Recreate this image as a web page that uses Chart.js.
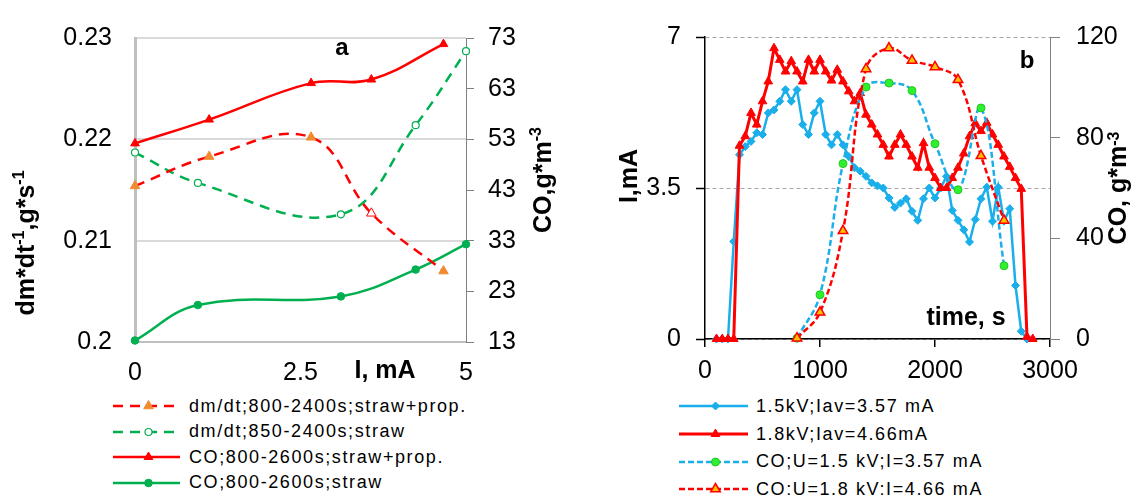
<!DOCTYPE html>
<html>
<head>
<meta charset="utf-8">
<script src="https://cdn.jsdelivr.net/npm/chart.js@4.4.1/dist/chart.umd.min.js"></script>
<style>
  html, body { margin: 0; padding: 0; background: #fff; }
  body { width: 1138px; height: 495px; position: relative; overflow: hidden;
         font-family: "Liberation Sans", Arial, sans-serif; }
  canvas { position: absolute; top: 0; }
  #cA { left: 0; }
  #cB { left: 580px; }
  .row { position: absolute; height: 20px; display: flex; align-items: center; white-space: nowrap;
         font-size: 18px; letter-spacing: 1.6px; color: #000; }
  .row svg { flex: none; }
</style>
</head>
<body>
<canvas id="cA" width="580" height="390"></canvas>
<canvas id="cB" width="558" height="390"></canvas>
<div id="legA"></div>
<div id="legB"></div>
<script>
'use strict';

// ---- panel a: mass loss rate and CO vs current ----
const iStraw    = [0, 0.95, 3.11, 4.24, 5.0];
const iProp     = [0, 1.12, 2.66, 3.57, 4.66];
const dmdtProp  = [0.2154, 0.2183, 0.2202, 0.2127, 0.2070];
const dmdtStraw = [0.2187, 0.2157, 0.2126, 0.2214, 0.2287];
const coProp    = [52.2, 56.9, 64.1, 64.8, 71.8];
const coStraw   = [13.3, 20.3, 22.0, 27.3, 32.3];
const ticksIA   = [0, 2.5, 5];
const ticksDmA  = [0.2, 0.21, 0.22, 0.23];
const ticksCoA  = [13, 23, 33, 43, 53, 63, 73];
const legendA   = ['dm/dt;800-2400s;straw+prop.', 'dm/dt;850-2400s;straw',
                   'CO;800-2600s;straw+prop.', 'CO;800-2600s;straw'];

// ---- panel b: current and CO vs time ----
const tBlue = [100, 150, 200, 250, 300, 350, 400, 450, 500, 550, 600, 650, 700, 750, 800, 850, 900, 950,
               1000, 1050, 1100, 1150, 1200, 1250, 1300, 1350, 1400, 1450, 1500, 1550, 1600, 1650, 1700,
               1750, 1800, 1850, 1900, 1950, 2000, 2050, 2100, 2150, 2200, 2250, 2300, 2350, 2400, 2450,
               2500, 2550, 2600, 2650, 2700, 2750, 2800];
const iBlue = [0, 0, 0, 2.26, 4.27, 4.46, 4.58, 4.78, 4.74, 5.24, 5.31, 5.51, 5.78, 5.51, 5.78, 4.97, 4.74,
               5.24, 5.51, 4.74, 4.50, 4.74, 4.50, 4.23, 3.97, 3.89, 3.77, 3.62, 3.55, 3.50, 3.27, 3.05,
               3.15, 3.25, 2.96, 2.75, 3.25, 3.50, 3.27, 3.50, 3.77, 2.98, 2.75, 2.53, 2.25, 2.77, 3.25,
               3.52, 2.73, 3.52, 2.73, 3.02, 1.24, 0.18, 0];
const tRed  = [100, 150, 200, 250, 300, 350, 400, 450, 500, 550, 600, 650, 700, 750, 800, 850, 900, 950,
               1000, 1050, 1100, 1150, 1200, 1250, 1300, 1350, 1400, 1450, 1500, 1550, 1600, 1650, 1700,
               1750, 1800, 1850, 1900, 1950, 2000, 2050, 2100, 2150, 2200, 2250, 2300, 2350, 2400, 2450,
               2500, 2550, 2600, 2650, 2700, 2750, 2800, 2850];
const iRed  = [0, 0, 0, 0, 4.48, 4.70, 5.24, 4.97, 5.51, 5.97, 6.74, 6.47, 6.20, 6.44, 6.20, 5.97, 6.47,
               6.20, 6.47, 6.20, 5.99, 6.24, 5.97, 5.74, 5.51, 5.70, 5.20, 4.97, 4.74, 4.50, 4.23, 4.50,
               4.74, 4.50, 4.23, 3.97, 4.54, 3.97, 3.73, 3.50, 3.50, 3.73, 3.97, 4.30, 4.70, 5.00, 4.82,
               5.01, 4.74, 4.50, 4.23, 3.99, 3.73, 3.48, 0.05, 0];
const tCO   = [800, 1000, 1200, 1400, 1600, 1800, 2000, 2200, 2400, 2600];
const co15  = [0.3, 17.6, 69.7, 100.1, 101.7, 98.7, 77.6, 59.3, 91.8, 29.1];
const co18  = [0.3, 10.6, 43.0, 107.3, 115.6, 110.7, 108.1, 103.0, 72.8, 47.1];
const ticksTimeB = [0, 1000, 2000, 3000];
const ticksIB    = [0, 3.5, 7];
const ticksCoB   = [0, 40, 80, 120];
const legendB = ['1.5kV;Iav=3.57 mA', '1.8kV;Iav=4.66mA', 'CO;U=1.5 kV;I=3.57 mA', 'CO;U=1.8 kV;I=4.66 mA'];

const FONT = '"Liberation Sans", Arial, sans-serif';
Chart.defaults.font.family = FONT;
Chart.defaults.color = '#000';

const pts = (xs, ys) => xs.map((x, i) => ({ x, y: ys[i] }));
const fixedTicks = vals => s => { s.ticks = vals.map(v => ({ value: v })); };
const plain = v => String(+Number(v).toFixed(2));

// bold text, optionally with superscript parts, optionally rotated (reads bottom-to-top)
function drawRich(ctx, n) {
  const size = n.size || 25;
  const base = `bold ${size}px ${FONT}`;
  const small = `bold ${Math.round(size * 0.62)}px ${FONT}`;
  const raise = n.raise != null ? n.raise : 0.4;
  ctx.save();
  ctx.translate(n.x, n.y);
  if (n.rot) ctx.rotate(-Math.PI / 2);
  ctx.fillStyle = '#000';
  ctx.textBaseline = 'alphabetic';
  ctx.textAlign = 'left';
  let w = 0;
  n.parts.forEach(p => { ctx.font = p[1] ? small : base; w += ctx.measureText(p[0]).width; });
  let cx = -w / 2;
  n.parts.forEach(p => {
    ctx.font = p[1] ? small : base;
    ctx.fillText(p[0], cx, p[1] ? -size * raise : 0);
    cx += ctx.measureText(p[0]).width;
  });
  ctx.restore();
}
const notes = list => ({
  id: 'notes',
  afterDraw(chart) { list.forEach(n => drawRich(chart.ctx, n)); }
});

const tickFont = { size: 25 };

// ---------------- chart a ----------------
const orange = '#F28A30';
const green = '#00B050';
const dsA = [
  { label: legendA[0], data: pts(iProp, dmdtProp), yAxisID: 'y', borderColor: '#FF0000', borderWidth: 2.5,
    borderDash: [10, 7], tension: 0.4, pointStyle: 'triangle', pointRadius: 5.5, pointBorderWidth: 1,
    pointBackgroundColor: [orange, orange, orange, '#FFFFFF', orange],
    pointBorderColor: [orange, orange, orange, '#FF0000', orange] },
  { label: legendA[1], data: pts(iStraw, dmdtStraw), yAxisID: 'y', borderColor: green, borderWidth: 2.5,
    borderDash: [10, 7], tension: 0.4, pointStyle: 'circle', pointRadius: 3.5, pointBorderWidth: 1.2,
    pointBackgroundColor: '#FFFFFF', pointBorderColor: green },
  { label: legendA[2], data: pts(iProp, coProp), yAxisID: 'y2', borderColor: '#FF0000', borderWidth: 2.5,
    tension: 0.4, pointStyle: 'triangle', pointRadius: 5, pointBorderWidth: 1,
    pointBackgroundColor: '#FF0000', pointBorderColor: '#FF0000' },
  { label: legendA[3], data: pts(iStraw, coStraw), yAxisID: 'y2', borderColor: green, borderWidth: 2.5,
    tension: 0.4, pointStyle: 'circle', pointRadius: 3.8, pointBorderWidth: 1,
    pointBackgroundColor: green, pointBorderColor: green }
];

new Chart(document.getElementById('cA'), {
  type: 'line',
  data: { datasets: dsA.map(d => Object.assign({ clip: false }, d)) },
  options: {
    responsive: false, animation: false, events: [],
    layout: { padding: { top: 30, left: 0, right: 0, bottom: 0 } },
    plugins: { legend: { display: false }, tooltip: { enabled: false } },
    scales: {
      x: { type: 'linear', min: 0, max: 5, afterBuildTicks: fixedTicks(ticksIA),
           ticks: { font: tickFont, padding: 16, callback: plain },
           grid: { display: false, drawTicks: false },
           border: { color: '#BFBFBF', width: 2 },
           afterFit: s => { s.height = 48; } },
      y: { min: 0.2, max: 0.23, afterBuildTicks: fixedTicks(ticksDmA),
           ticks: { font: tickFont, padding: 23, callback: plain },
           grid: { color: '#D9D9D9', lineWidth: 2, drawTicks: false },
           border: { color: '#BFBFBF', width: 3 },
           afterFit: s => { s.width = 135; } },
      y2: { position: 'right', min: 13, max: 73, afterBuildTicks: fixedTicks(ticksCoA),
            ticks: { font: tickFont, padding: 14, callback: plain },
            grid: { drawOnChartArea: false, tickLength: 8, color: '#808080', lineWidth: 1 },
            border: { color: '#808080', width: 1 },
            afterFit: s => { s.width = 114; } }
    }
  },
  plugins: [notes([
    { parts: [['dm*dt'], ['-1', 1], [',g*s'], ['-1', 1]], x: 34, y: 243, rot: true },
    { parts: [['CO,g*m'], ['-3', 1]], x: 551, y: 180, rot: true },
    { parts: [['I, mA']], x: 385, y: 378 },
    { parts: [['a']], x: 342, y: 55, size: 24 }
  ])]
});

// ---------------- chart b ----------------
const sky = '#1AAFEA';
const dsB = [
  { label: legendB[0], data: pts(tBlue, iBlue), yAxisID: 'y', borderColor: sky, borderWidth: 2.5, tension: 0,
    pointStyle: 'rectRot', pointRadius: 4, pointBorderWidth: 1,
    pointBackgroundColor: sky, pointBorderColor: sky, order: 4 },
  { label: legendB[1], data: pts(tRed, iRed), yAxisID: 'y', borderColor: '#FF0000', borderWidth: 3, tension: 0,
    pointStyle: 'triangle', pointRadius: 5, pointBorderWidth: 1,
    pointBackgroundColor: '#FF0000', pointBorderColor: '#FF0000', order: 3 },
  { label: legendB[2], data: pts(tCO, co15), yAxisID: 'y2', borderColor: sky, borderWidth: 2.5,
    borderDash: [6, 3], tension: 0.4, pointStyle: 'circle', pointRadius: 4, pointBorderWidth: 1,
    pointBackgroundColor: '#2EF02E', pointBorderColor: '#22C822', order: 2 },
  { label: legendB[3], data: pts(tCO, co18), yAxisID: 'y2', borderColor: '#FF0000', borderWidth: 2.5,
    borderDash: [6, 3], tension: 0.4, pointStyle: 'triangle', pointRadius: 5.5, pointBorderWidth: 1.5,
    pointBackgroundColor: '#FFC000', pointBorderColor: '#FF0000', order: 1 }
];

new Chart(document.getElementById('cB'), {
  type: 'line',
  data: { datasets: dsB.map(d => Object.assign({ clip: false }, d)) },
  options: {
    responsive: false, animation: false, events: [],
    layout: { padding: { top: 37, left: 0, right: 0, bottom: 0 } },
    plugins: { legend: { display: false }, tooltip: { enabled: false } },
    scales: {
      x: { type: 'linear', min: 0, max: 3000, afterBuildTicks: fixedTicks(ticksTimeB),
           ticks: { font: tickFont, padding: 9, callback: plain },
           grid: { drawOnChartArea: false, tickLength: 8, color: '#000', lineWidth: 1.5 },
           border: { color: '#000', width: 1.5 },
           afterFit: s => { s.height = 51; } },
      y: { min: 0, max: 7, afterBuildTicks: fixedTicks(ticksIB),
           ticks: { font: tickFont, padding: 15, callback: plain },
           grid: { color: '#A6A6A6', lineWidth: 1, tickLength: 9, tickColor: '#000', tickWidth: 1.5,
                   tickBorderDash: [] },
           border: { color: '#000', width: 1.5, dash: [4, 3] },
           afterFit: s => { s.width = 125; } },
      y2: { position: 'right', min: 0, max: 120, afterBuildTicks: fixedTicks(ticksCoB),
            ticks: { font: tickFont, padding: 16, callback: plain },
            grid: { drawOnChartArea: false, tickLength: 10, color: '#808080', lineWidth: 1 },
            border: { color: '#808080', width: 1 },
            afterFit: s => { s.width = 88; } }
    }
  },
  plugins: [notes([
    { parts: [['I,mA']], x: 57, y: 176, rot: true },
    { parts: [['CO, g*m'], ['-3', 1]], x: 546, y: 188, rot: true, raise: 0.28 },
    { parts: [['b']], x: 447, y: 68, size: 24 },
    { parts: [['time, s']], x: 386, y: 325 }
  ])]
});

// ---------------- html legends ----------------
function marker(ds, cx, cy) {
  const r = ds.pointRadius;
  const bg = Array.isArray(ds.pointBackgroundColor) ? ds.pointBackgroundColor[0] : ds.pointBackgroundColor;
  const bc = Array.isArray(ds.pointBorderColor) ? ds.pointBorderColor[0] : ds.pointBorderColor;
  const sw = ds.pointBorderWidth;
  if (ds.pointStyle === 'triangle') {
    const p = [[cx, cy - r], [cx + 0.87 * r, cy + 0.5 * r], [cx - 0.87 * r, cy + 0.5 * r]]
      .map(q => q.join(',')).join(' ');
    return `<polygon points="${p}" fill="${bg}" stroke="${bc}" stroke-width="${sw}"/>`;
  }
  if (ds.pointStyle === 'rectRot') {
    const p = [[cx, cy - r], [cx + r, cy], [cx, cy + r], [cx - r, cy]].map(q => q.join(',')).join(' ');
    return `<polygon points="${p}" fill="${bg}" stroke="${bc}" stroke-width="${sw}"/>`;
  }
  return `<circle cx="${cx}" cy="${cy}" r="${r}" fill="${bg}" stroke="${bc}" stroke-width="${sw}"/>`;
}

function buildLegend(id, datasets, left, width, gap, tops) {
  const wrap = document.getElementById(id);
  wrap.innerHTML = datasets.map((ds, i) => {
    const dash = ds.borderDash ? `stroke-dasharray="${ds.borderDash.join(' ')}"` : '';
    return `<div class="row" style="left:${left}px;top:${tops[i]}px;">
      <svg width="${width}" height="20" style="margin-right:${gap}px">
        <line x1="0" y1="10" x2="${width}" y2="10" stroke="${ds.borderColor}" stroke-width="${ds.borderWidth}" ${dash}/>
        ${marker(ds, width / 2 + 2, 10)}
      </svg><span>${ds.label}</span></div>`;
  }).join('');
}

buildLegend('legA', dsA, 113, 67, 9, [396, 421.5, 447, 472.5]);
buildLegend('legB', dsB, 679, 69, 8, [396, 424, 451.5, 479]);
</script>
</body>
</html>
